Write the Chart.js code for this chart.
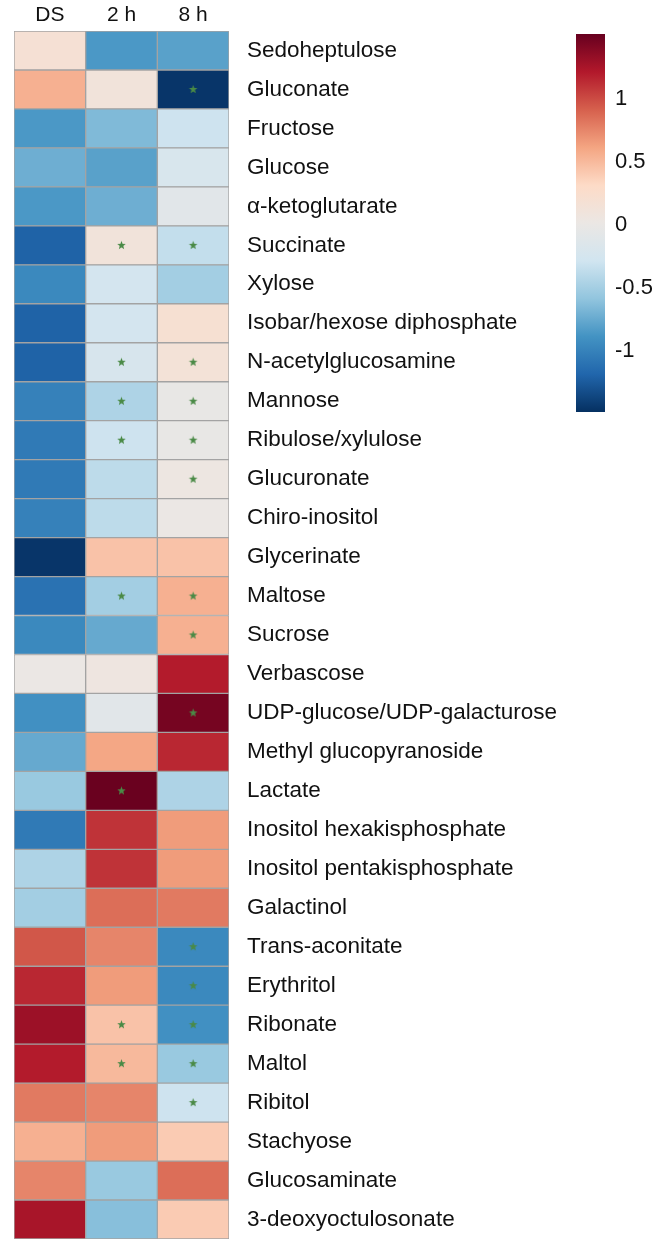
<!DOCTYPE html>
<html>
<head>
<meta charset="utf-8">
<script src="https://cdn.jsdelivr.net/npm/chart.js"></script>
<style>
  body { margin: 0; background: #fff; }
  #wrap { position: relative; width: 661px; height: 1245px; }
  canvas { position: absolute; }
</style>
</head>
<body>
<div id="wrap">
  <canvas id="heat" width="661" height="1245" style="left:0;top:0"></canvas>
  <canvas id="legend" width="121" height="440" style="left:540px;top:0"></canvas>
</div>
<script>
// columns and rows
var columns = ["DS", "2 h", "8 h"];
var metabolites = [
  "Sedoheptulose", "Gluconate", "Fructose", "Glucose", "α-ketoglutarate",
  "Succinate", "Xylose", "Isobar/hexose diphosphate", "N-acetylglucosamine",
  "Mannose", "Ribulose/xylulose", "Glucuronate", "Chiro-inositol", "Glycerinate",
  "Maltose", "Sucrose", "Verbascose", "UDP-glucose/UDP-galacturose",
  "Methyl glucopyranoside", "Lactate", "Inositol hexakisphosphate",
  "Inositol pentakisphosphate", "Galactinol", "Trans-aconitate", "Erythritol",
  "Ribonate", "Maltol", "Ribitol", "Stachyose", "Glucosaminate", "3-deoxyoctulosonate"
];

// scaled values
var valDS = [0.18, 0.55, -0.85, -0.72, -0.85, -1.2, -0.95, -1.2, -1.2, -1.0, -1.05, -1.05, -1.0, -1.45,
  -1.1, -0.95, 0.02, -0.9, -0.75, -0.55, -1.05, -0.45, -0.5, 0.95, 1.15, 1.3, 1.2, 0.8, 0.55, 0.75, 1.25];
var val2h = [-0.85, 0.12, -0.65, -0.8, -0.72, 0.12, -0.25, -0.25, -0.22, -0.45, -0.3, -0.38, -0.38, 0.45,
  -0.5, -0.75, 0.06, -0.1, 0.6, 1.5, 1.1, 1.1, 0.85, 0.75, 0.65, 0.45, 0.5, 0.75, 0.65, -0.55, -0.62];
var val8h = [-0.8, -1.45, -0.3, -0.2, -0.1, -0.35, -0.5, 0.2, 0.15, -0.02, -0.02, 0.05, 0.02, 0.45,
  0.55, 0.55, 1.2, 1.45, 1.15, -0.45, 0.65, 0.65, 0.8, -0.95, -0.95, -0.9, -0.55, -0.3, 0.4, 0.85, 0.4];

// cells marked with a star
var star2h = ["Succinate", "N-acetylglucosamine", "Mannose", "Ribulose/xylulose", "Maltose",
  "Lactate", "Ribonate", "Maltol"];
var star8h = ["Gluconate", "Succinate", "N-acetylglucosamine", "Mannose", "Ribulose/xylulose",
  "Glucuronate", "Maltose", "Sucrose", "UDP-glucose/UDP-galacturose", "Trans-aconitate",
  "Erythritol", "Ribonate", "Maltol", "Ribitol"];

var legendTicks = [-1, -0.5, 0, 0.5, 1];
var legendMin = -1.48;
var legendMax = 1.51;

var palette = ["#053061", "#2166ac", "#4393c3", "#92c5de", "#d1e5f0", "#ebe7e4",
  "#fddbc7", "#f4a582", "#d6604d", "#b2182b", "#67001f"];

function hexToRgb(h) {
  return [parseInt(h.substr(1, 2), 16), parseInt(h.substr(3, 2), 16), parseInt(h.substr(5, 2), 16)];
}

function colorFor(v) {
  var t = (v - legendMin) / (legendMax - legendMin);
  t = Math.max(0, Math.min(1, t));
  var p = t * (palette.length - 1);
  var i = Math.min(Math.floor(p), palette.length - 2);
  var f = p - i;
  var a = hexToRgb(palette[i]), b = hexToRgb(palette[i + 1]);
  var c = a.map(function (x, k) { return Math.round(x + (b[k] - x) * f); });
  return "rgb(" + c.join(",") + ")";
}

// small filled star used as point style
var starImg = document.createElement("canvas");
starImg.width = 11;
starImg.height = 11;
(function () {
  var c = starImg.getContext("2d");
  c.beginPath();
  for (var k = 0; k < 10; k++) {
    var r = k % 2 === 0 ? 4.5 : 1.9;
    var ang = -Math.PI / 2 + k * Math.PI / 5;
    c.lineTo(5.5 + r * Math.cos(ang), 5.5 + r * Math.sin(ang));
  }
  c.closePath();
  c.fillStyle = "#4a8a46";
  c.fill();
})();

var allValues = [valDS, val2h, val8h];

var datasets = [];
datasets.push({
  type: "scatter",
  order: 0,
  data: star2h.map(function (m) { return { x: 1.5, y: m }; })
    .concat(star8h.map(function (m) { return { x: 2.5, y: m }; })),
  pointStyle: starImg,
  pointRadius: 5
});
allValues.forEach(function (vals, c) {
  datasets.push({
    type: "bar",
    order: 1,
    data: vals.map(function () { return [c, c + 1]; }),
    backgroundColor: vals.map(colorFor),
    borderColor: "#a3a3a3",
    borderWidth: 1,
    borderSkipped: false,
    grouped: false,
    barPercentage: 1,
    categoryPercentage: 1
  });
});

new Chart(document.getElementById("heat"), {
  type: "bar",
  data: { labels: metabolites, datasets: datasets },
  options: {
    indexAxis: "y",
    responsive: false,
    animation: false,
    layout: { padding: { left: 14, top: 0, right: 0, bottom: 5 } },
    plugins: { legend: { display: false }, tooltip: { enabled: false } },
    scales: {
      x: {
        type: "linear",
        position: "top",
        min: 0,
        max: 3,
        grid: { display: false, drawTicks: false },
        border: { display: false },
        afterBuildTicks: function (s) {
          s.ticks = [0.5, 1.5, 2.5].map(function (v) { return { value: v }; });
        },
        afterFit: function (s) { s.height = 31; },
        ticks: {
          padding: 3,
          color: "#111",
          font: { family: "Liberation Sans, Arial, sans-serif", size: 21 },
          callback: function (v) { return columns[Math.floor(v)]; }
        }
      },
      y: {
        type: "category",
        labels: metabolites,
        position: "right",
        grid: { display: false, drawTicks: false },
        border: { display: false },
        afterFit: function (s) {
          s.width = 432;
          s.paddingTop = 0;
          s.paddingBottom = 0;
        },
        ticks: {
          padding: 18,
          crossAlign: "near",
          autoSkip: false,
          color: "#111",
          font: { family: "Liberation Sans, Arial, sans-serif", size: 22.5 }
        }
      }
    }
  }
});

// colour key
new Chart(document.getElementById("legend"), {
  type: "bar",
  data: {
    labels: ["key"],
    datasets: [{
      data: [[legendMin, legendMax]],
      backgroundColor: function (ctx) {
        var ca = ctx.chart.chartArea;
        if (!ca) return null;
        var g = ctx.chart.ctx.createLinearGradient(0, ca.bottom, 0, ca.top);
        palette.forEach(function (col, i) { g.addColorStop(i / (palette.length - 1), col); });
        return g;
      },
      borderWidth: 0,
      barPercentage: 1,
      categoryPercentage: 1
    }]
  },
  options: {
    responsive: false,
    animation: false,
    layout: { padding: { left: 36, top: 34, right: 0, bottom: 28 } },
    plugins: { legend: { display: false }, tooltip: { enabled: false } },
    scales: {
      x: { display: false },
      y: {
        min: legendMin,
        max: legendMax,
        position: "right",
        grid: { display: false, drawTicks: false },
        border: { display: false },
        afterBuildTicks: function (s) {
          s.ticks = legendTicks.map(function (v) { return { value: v }; });
        },
        afterFit: function (s) {
          s.width = 56;
          s.paddingTop = 0;
          s.paddingBottom = 0;
        },
        ticks: {
          padding: 10,
          crossAlign: "near",
          color: "#111",
          font: { family: "Liberation Sans, Arial, sans-serif", size: 22 },
          callback: function (v) { return String(v); }
        }
      }
    }
  }
});
</script>
</body>
</html>
